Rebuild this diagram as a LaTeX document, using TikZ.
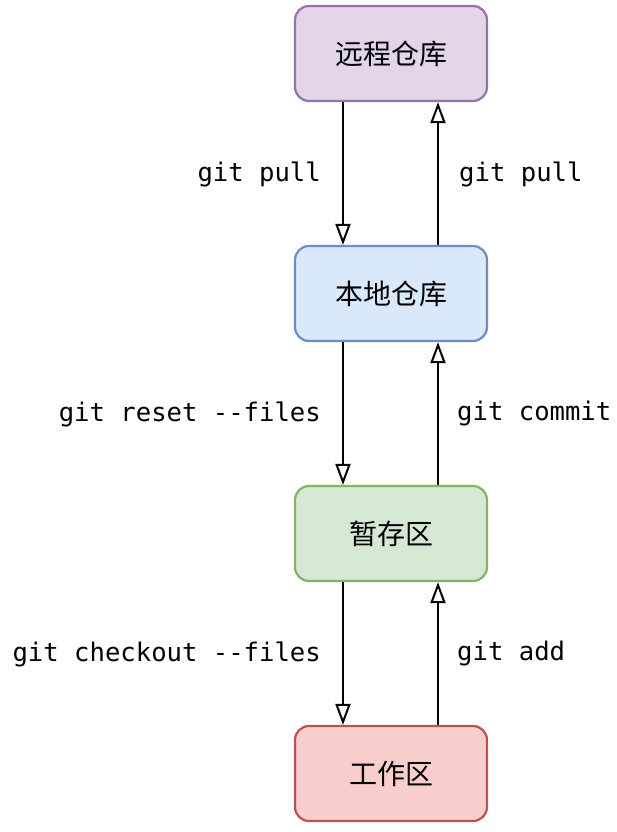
\documentclass[tikz,border=0pt]{standalone}
\usepackage{fontspec}
\setmonofont{DejaVu Sans Mono}
\newfontfamily\cjk{Noto Sans CJK SC}
\usetikzlibrary{arrows.meta}
\definecolor{pfill}{HTML}{E1D5E7}\definecolor{pdraw}{HTML}{9673A6}
\definecolor{bfill}{HTML}{DAE8FC}\definecolor{bdraw}{HTML}{6C8EBF}
\definecolor{gfill}{HTML}{D5E8D4}\definecolor{gdraw}{HTML}{82B366}
\definecolor{rfill}{HTML}{F8CECC}\definecolor{rdraw}{HTML}{B85450}
\tikzset{
  box/.style={rectangle, rounded corners=14pt, minimum width=192pt, minimum height=95pt, line width=2.2pt, inner sep=0pt, font=\cjk\fontsize{28pt}{32pt}\selectfont},
  conn/.style={line width=2.2pt, -{Triangle[open, length=21pt, width=15pt, line width=2pt]}},
  lbl/.style={font=\ttfamily\fontsize{25.6pt}{30pt}\selectfont, inner sep=0pt}
}
\begin{document}
\begin{tikzpicture}[x=1pt,y=-1pt]
\useasboundingbox (0,0) rectangle (616,832);
\node[box, fill=pfill, draw=pdraw] (remote) at (391,53.5) {远程仓库};
\node[box, fill=bfill, draw=bdraw] (local) at (391,293.5) {本地仓库};
\node[box, fill=gfill, draw=gdraw] (stage) at (391,533.5) {暂存区};
\node[box, fill=rfill, draw=rdraw] (work) at (391,773.5) {工作区};
\draw[conn] (remote.south -| 343,0) -- (local.north -| 343,0);
\draw[conn] (local.north -| 438,0) -- (remote.south -| 438,0);
\draw[conn] (local.south -| 343,0) -- (stage.north -| 343,0);
\draw[conn] (stage.north -| 438,0) -- (local.south -| 438,0);
\draw[conn] (stage.south -| 343,0) -- (work.north -| 343,0);
\draw[conn] (work.north -| 438,0) -- (stage.south -| 438,0);
\node[lbl, anchor=east] (l1) at (321,174) {git pull};
\node[lbl, anchor=west] (r1) at (459,174) {git pull};
\node[lbl, anchor=east] (l2) at (321,414) {git reset --files};
\node[lbl, anchor=west] (r2) at (457,414) {git commit};
\node[lbl, anchor=east] (l3) at (321,654) {git checkout --files};
\node[lbl, anchor=west] (r3) at (457,654) {git add};
\end{tikzpicture}
\end{document}
